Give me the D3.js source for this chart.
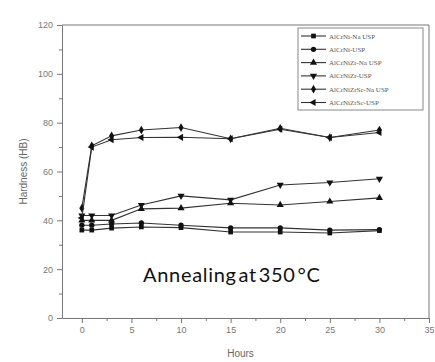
<!DOCTYPE html>
<html>
  <head>
    <meta charset="utf-8">
    <title>Hardness vs annealing time</title>
    <style>
      body { margin: 0; background: #fff; }
      .axis text { font-family: Arial, "Liberation Sans", sans-serif; font-size: 9px; fill: #777; }
      .axis path, .axis line { stroke: #777; }
    </style>
  </head>
  <body>
    <script src="https://d3js.org/d3.v7.min.js"></script>
    <script>
      // data
      var hours = [0, 1, 3, 6, 10, 15, 20, 25, 30];
      var seriesNames = ["AlCrNi-Na USP", "AlCrNi-USP", "AlCrNiZr-Na USP",
                         "AlCrNiZr-USP", "AlCrNiZrSc-Na USP", "AlCrNiZrSc-USP"];
      var alcrniNa     = [36, 36, 36.8, 37.3, 37, 35.2, 35.2, 34.8, 35.8];
      var alcrni       = [38, 38, 38.5, 38.9, 38, 36.9, 36.9, 36, 36.2];
      var alcrnizrNa   = [40, 40, 40, 44.7, 45, 47, 46.3, 47.7, 49.2];
      var alcrnizr     = [42, 42, 42, 46.3, 50, 48.4, 54.5, 55.5, 57];
      var alcrnizrscNa = [45, 70.5, 74.6, 77, 78, 73.4, 77.7, 73.9, 77];
      var alcrnizrsc   = [41, 70, 73, 73.9, 74, 73.4, 77.3, 73.9, 76];
      var allSeries = [alcrniNa, alcrni, alcrnizrNa, alcrnizr, alcrnizrscNa, alcrnizrsc];
      var symbols = [d3.symbolSquare, d3.symbolCircle, d3.symbolTriangle,
                     d3.symbolTriangle, d3.symbolDiamond, d3.symbolTriangle];
      var rotations = [0, 0, 0, 180, 0, -90];
      var xTicks = [0, 5, 10, 15, 20, 25, 30, 35];
      var yTicks = [0, 20, 40, 60, 80, 100, 120];

      var W = 435, H = 362;
      var plotLeft = 62, plotRight = 429, plotTop = 25, plotBottom = 318;

      var x = d3.scaleLinear().domain([-2, 35]).range([plotLeft, plotRight]);
      var y = d3.scaleLinear().domain([0, 120]).range([plotBottom, plotTop]);

      var svg = d3.select("body").append("svg")
          .attr("width", W)
          .attr("height", H);

      // frame top and right
      svg.append("line").attr("x1", plotLeft).attr("x2", plotRight).attr("y1", plotTop).attr("y2", plotTop)
        .attr("stroke", "#777");
      svg.append("line").attr("x1", plotRight).attr("x2", plotRight).attr("y1", plotTop).attr("y2", plotBottom)
        .attr("stroke", "#777");

      // minor ticks
      var xMinor = d3.range(-2.5, 35.1, 2.5).filter(function(v) { return v >= -2 && v % 5 != 0; });
      var yMinor = d3.range(10, 120, 20);

      svg.append("g")
          .attr("class", "axis")
          .attr("transform", "translate(0," + plotBottom + ")")
          .call(d3.axisBottom(x).tickValues(xMinor).tickSize(3).tickFormat(""))
          .call(function(g) { g.select(".domain").remove(); });
      svg.append("g")
          .attr("class", "axis")
          .attr("transform", "translate(" + plotLeft + ",0)")
          .call(d3.axisLeft(y).tickValues(yMinor).tickSize(3).tickFormat(""))
          .call(function(g) { g.select(".domain").remove(); });

      // major axes
      svg.append("g")
          .attr("class", "axis")
          .attr("transform", "translate(0," + plotBottom + ")")
          .call(d3.axisBottom(x).tickValues(xTicks).tickSize(5).tickPadding(4).tickSizeOuter(0));
      svg.append("g")
          .attr("class", "axis")
          .attr("transform", "translate(" + plotLeft + ",0)")
          .call(d3.axisLeft(y).tickValues(yTicks).tickSize(5).tickPadding(4).tickSizeOuter(0));

      // axis titles
      svg.append("text")
        .attr("x", (plotLeft + plotRight) / 2 - 5)
        .attr("y", 357)
        .attr("text-anchor", "middle")
        .style("font-family", "Arial, sans-serif")
        .style("font-size", "10px")
        .style("fill", "#666")
        .text("Hours");
      svg.append("text")
        .attr("transform", "translate(27," + ((plotTop + plotBottom) / 2) + ") rotate(-90)")
        .attr("text-anchor", "middle")
        .style("font-family", "Arial, sans-serif")
        .style("font-size", "10px")
        .style("fill", "#666")
        .text("Hardness (HB)");

      // lines and markers
      var line = d3.line()
          .x(function(d, i) { return x(hours[i]); })
          .y(function(d) { return y(d); });

      allSeries.forEach(function(vals, s) {
        svg.append("path")
          .datum(vals)
          .attr("d", line)
          .attr("fill", "none")
          .attr("stroke", "#333")
          .attr("stroke-width", 1.1);

        svg.selectAll(".m" + s)
          .data(vals)
          .enter().append("path")
          .attr("class", "m" + s)
          .attr("d", d3.symbol().type(symbols[s]).size(22))
          .attr("transform", function(d, i) {
            return "translate(" + x(hours[i]) + "," + y(d) + ") rotate(" + rotations[s] + ")";
          })
          .attr("fill", "#111");
      });

      // legend
      var legend = svg.append("g");
      legend.append("rect")
        .attr("x", 298).attr("y", 28)
        .attr("width", 125).attr("height", 82)
        .attr("fill", "#fff")
        .attr("stroke", "#888");

      seriesNames.forEach(function(name, s) {
        var ly = 36 + s * 13.3;
        legend.append("line")
          .attr("x1", 301).attr("x2", 326).attr("y1", ly).attr("y2", ly)
          .attr("stroke", "#333").attr("stroke-width", 1.1);
        legend.append("path")
          .attr("d", d3.symbol().type(symbols[s]).size(22))
          .attr("transform", "translate(313.5," + ly + ") rotate(" + rotations[s] + ")")
          .attr("fill", "#111");
        legend.append("text")
          .attr("x", 329).attr("y", ly + 2.5)
          .style("font-family", "'Liberation Serif', serif")
          .style("font-size", "7px")
          .style("fill", "#555")
          .text(name);
      });

      // annotation
      svg.append("text")
        .attr("x", 143)
        .attr("y", 282)
        .style("font-family", "Lato, 'Open Sans', sans-serif")
        .style("font-size", "20px")
        .style("letter-spacing", "0.7px")
        .style("word-spacing", "-4px")
        .style("fill", "#111")
        .text("Annealing at 350 °C");
    </script>
  </body>
</html>
